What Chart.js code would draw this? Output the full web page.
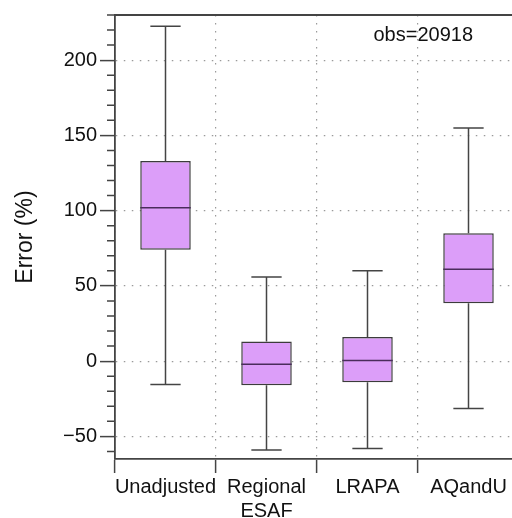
<!DOCTYPE html>
<html>
<head>
<meta charset="utf-8">
<script src="https://cdn.jsdelivr.net/npm/chart.js@4.4.1/dist/chart.umd.min.js"></script>
<style>
  html, body { margin: 0; padding: 0; overflow: hidden; background: #fff; }
  #wrap { width: 530px; height: 518px; }
</style>
</head>
<body>
<div id="wrap"><canvas id="Chart-1"></canvas></div>
<script>
var categories = [["Unadjusted"], ["Regional", "ESAF"], ["LRAPA"], ["AQandU"]];
var whiskerLow = [-15.5, -59, -58, -31.5];
var boxLow = [74, -16, -14, 38.5];
var medians = [102, -2, 0.5, 61];
var boxHigh = [133, 13, 16, 85];
var whiskerHigh = [222.5, 56, 60, 155];
var yTicks = [-50, 0, 50, 100, 150, 200];
var yMin = -65, yMax = 230, yMinorStep = 10;
var obsLabel = "obs=20918";

var fontFamily = "'Liberation Sans', Arial, Helvetica, sans-serif";
var axisColor = "#444";
var gridColor = "#9a9a9a";

// whiskers, caps, medians, minor ticks, top frame line and the obs text
var boxParts = {
  id: "boxParts",
  afterDatasetsDraw: function(chart) {
    var ctx = chart.ctx, x = chart.scales.x, y = chart.scales.y, area = chart.chartArea;
    var meta = chart.getDatasetMeta(0);
    var cap = x.width / categories.length * 0.15;
    ctx.save();
    meta.data.forEach(function(bar, i) {
      var cx = x.getPixelForValue(i);
      var half = bar.width / 2;
      ctx.strokeStyle = axisColor;
      ctx.lineWidth = 1.5;
      ctx.beginPath();
      ctx.moveTo(cx, y.getPixelForValue(boxHigh[i]));
      ctx.lineTo(cx, y.getPixelForValue(whiskerHigh[i]));
      ctx.moveTo(cx - cap, y.getPixelForValue(whiskerHigh[i]));
      ctx.lineTo(cx + cap, y.getPixelForValue(whiskerHigh[i]));
      ctx.moveTo(cx, y.getPixelForValue(boxLow[i]));
      ctx.lineTo(cx, y.getPixelForValue(whiskerLow[i]));
      ctx.moveTo(cx - cap, y.getPixelForValue(whiskerLow[i]));
      ctx.lineTo(cx + cap, y.getPixelForValue(whiskerLow[i]));
      ctx.stroke();
      ctx.strokeStyle = "#4a2c5c";
      ctx.beginPath();
      ctx.moveTo(cx - half, y.getPixelForValue(medians[i]));
      ctx.lineTo(cx + half, y.getPixelForValue(medians[i]));
      ctx.stroke();
    });

    // minor ticks on the y axis
    ctx.strokeStyle = axisColor;
    ctx.lineWidth = 1.5;
    ctx.beginPath();
    for (var v = Math.ceil(yMin / yMinorStep) * yMinorStep; v <= yMax; v += yMinorStep) {
      if (yTicks.indexOf(v) >= 0) continue;
      var py = y.getPixelForValue(v);
      ctx.moveTo(area.left - 8, py);
      ctx.lineTo(area.left, py);
    }
    ctx.stroke();

    // frame line on top
    ctx.lineWidth = 1.8;
    ctx.beginPath();
    ctx.moveTo(area.left, area.top);
    ctx.lineTo(area.right, area.top);
    ctx.stroke();

    ctx.fillStyle = "#111";
    ctx.font = "20px " + fontFamily;
    ctx.textAlign = "center";
    ctx.textBaseline = "middle";
    ctx.fillText(obsLabel, area.left + (area.right - area.left) * 0.763, area.top + 20);
    ctx.restore();
  }
};

new Chart("Chart-1", {
  type: "bar",
  data: {
    labels: categories,
    datasets: [{
      data: boxLow.map(function(v, i) { return [v, boxHigh[i]]; }),
      backgroundColor: "#dc9ef9",
      borderColor: "#3c3c3c",
      borderWidth: 1.5,
      borderSkipped: false,
      barPercentage: 0.5,
      categoryPercentage: 1.0
    }]
  },
  options: {
    responsive: true,
    maintainAspectRatio: false,
    animation: false,
    layout: { padding: { top: 13, right: 11, left: 0, bottom: 0 } },
    plugins: { legend: { display: false }, tooltip: { enabled: false } },
    scales: {
      x: {
        afterFit: function(axis) { axis.height = 59; },
        grid: { offset: true, color: gridColor, lineWidth: 1.2, tickColor: axisColor, tickLength: 14, tickWidth: 1.5 },
        border: { color: axisColor, width: 1.8, dash: [1.5, 6.5] },
        ticks: { color: "#111", font: { family: fontFamily, size: 20 }, padding: 2, maxRotation: 0, autoSkip: false }
      },
      y: {
        min: yMin,
        max: yMax,
        afterBuildTicks: function(axis) { axis.ticks = yTicks.map(function(v) { return { value: v }; }); },
        afterFit: function(axis) { axis.width = 115; },
        grid: { color: gridColor, lineWidth: 1.2, tickColor: axisColor, tickLength: 15, tickWidth: 1.5 },
        border: { color: axisColor, width: 1.8, dash: [1.5, 6.5] },
        ticks: {
          color: "#111",
          font: { family: fontFamily, size: 20 },
          padding: 3,
          callback: function(v) { return v < 0 ? "\u2212" + Math.abs(v) : String(v); }
        },
        title: {
          display: true,
          text: "Error (%)",
          color: "#111",
          font: { family: fontFamily, size: 23 },
          padding: { top: 12, bottom: 0 }
        }
      }
    }
  },
  plugins: [boxParts]
});
</script>
</body>
</html>
